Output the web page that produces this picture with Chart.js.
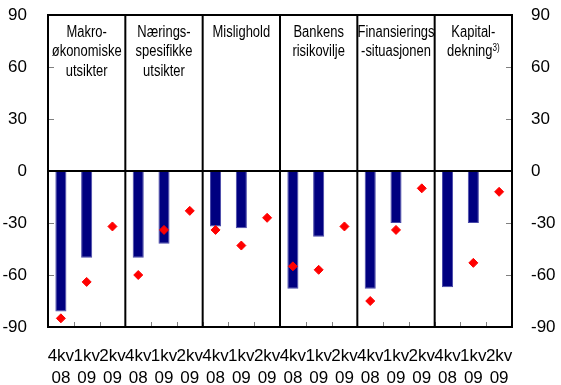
<!DOCTYPE html>
<html lang="no">
<head>
    <meta charset="UTF-8">
    <title>Utlånspraksis</title>
    <script src="https://cdn.jsdelivr.net/npm/chart.js"></script>
    <style>
        body {
            margin: 0;
            padding: 0;
            background-color: #ffffff;
        }

        #wrap {
            width: 561px;
            height: 385px;
        }
    </style>
</head>
<body>
    <div id="wrap">
        <canvas id="chart"></canvas>
    </div>
    <script>
        // Quarters repeated in every panel
        const quarters = [["4kv", "08"], ["1kv", "09"], ["2kv", "09"]];

        // Panel headings (lines) and footnote marks
        const panelTitles = [
            ["Makro-", "økonomiske", "utsikter"],
            ["Nærings-", "spesifikke", "utsikter"],
            ["Mislighold"],
            ["Bankens", "risikovilje"],
            ["Finansierings", "-situasjonen"],
            ["Kapital-", "dekning"]
        ];
        const panelNotes = ["", "", "", "", "", "3)"];

        // Bars: actual, diamonds: expected (per panel: 4kv08, 1kv09, 2kv09)
        const barValues = [
            -81, -50, null,
            -50, -42, null,
            -32, -33, null,
            -68, -38, null,
            -68, -30, null,
            -67, -30, null
        ];
        const diamondValues = [
            -85, -64, -32,
            -60, -34, -23,
            -34, -43, -27,
            -55, -57, -32,
            -75, -34, -10,
            null, -53, -12
        ];

        const yTicks = [-90, -60, -30, 0, 30, 60, 90];

        const labels = [];
        panelTitles.forEach(() => quarters.forEach(q => labels.push(q)));

        const fontFamily = "'Liberation Sans', Arial, sans-serif";
        Chart.defaults.font.family = fontFamily;
        Chart.defaults.font.size = 17;
        Chart.defaults.color = "#000000";

        // Frame, separators, inward ticks and panel headings
        const panelPlugin = {
            id: "panels",
            afterDatasetsDraw(chart) {
                const { ctx, chartArea: a } = chart;
                const x = chart.scales.x;
                const y = chart.scales.y;
                const half = (x.getPixelForValue(1) - x.getPixelForValue(0)) / 2;
                ctx.save();

                // small inward ticks
                ctx.strokeStyle = "#808080";
                ctx.lineWidth = 1;
                ctx.beginPath();
                for (let i = 1; i < labels.length; i++) {
                    const bx = Math.round(x.getPixelForValue(i) - half) + 0.5;
                    ctx.moveTo(bx, a.bottom);
                    ctx.lineTo(bx, a.bottom - 5);
                }
                yTicks.forEach(v => {
                    const py = Math.round(y.getPixelForValue(v)) + 0.5;
                    ctx.moveTo(a.left, py);
                    ctx.lineTo(a.left + 6, py);
                    ctx.moveTo(a.right, py);
                    ctx.lineTo(a.right - 6, py);
                });
                ctx.stroke();

                // panel separators, zero line and frame
                ctx.strokeStyle = "#000000";
                ctx.lineWidth = 2;
                ctx.beginPath();
                for (let p = 1; p < panelTitles.length; p++) {
                    const bx = x.getPixelForValue(p * quarters.length) - half;
                    ctx.moveTo(bx, a.top);
                    ctx.lineTo(bx, a.bottom);
                }
                const zy = y.getPixelForValue(0);
                ctx.moveTo(a.left, zy);
                ctx.lineTo(a.right, zy);
                ctx.stroke();
                ctx.strokeRect(a.left, a.top, a.right - a.left, a.bottom - a.top);

                // headings, squeezed a little like a narrow face
                const sq = 0.81;
                ctx.fillStyle = "#000000";
                ctx.textBaseline = "alphabetic";
                ctx.textAlign = "left";
                panelTitles.forEach((lines, p) => {
                    const cx = x.getPixelForValue(p * quarters.length + 1);
                    lines.forEach((line, k) => {
                        const by = a.top + 21.5 + k * 19.5;
                        const note = k === lines.length - 1 ? panelNotes[p] : "";
                        ctx.font = "16px " + fontFamily;
                        const w1 = ctx.measureText(line).width;
                        ctx.font = "10px " + fontFamily;
                        const w2 = note ? ctx.measureText(note).width : 0;
                        ctx.save();
                        ctx.translate(cx - (w1 + w2) * sq / 2, by);
                        ctx.scale(sq, 1);
                        ctx.font = "16px " + fontFamily;
                        ctx.fillText(line, 0, 0);
                        if (note) {
                            ctx.font = "10px " + fontFamily;
                            ctx.fillText(note, w1, -5);
                        }
                        ctx.restore();
                    });
                });
                ctx.restore();
            }
        };

        new Chart(document.getElementById("chart").getContext("2d"), {
            type: "bar",
            data: {
                labels: labels,
                datasets: [
                    {
                        type: "line",
                        label: "Forventet",
                        data: diamondValues,
                        showLine: false,
                        pointStyle: "rectRot",
                        pointRadius: 4.5,
                        backgroundColor: "#ff0000",
                        borderColor: "#ff0000",
                        borderWidth: 1,
                        order: 0
                    },
                    {
                        label: "Faktisk",
                        data: barValues,
                        backgroundColor: "#000080",
                        borderColor: "#4848a8",
                        borderWidth: 1,
                        categoryPercentage: 1,
                        barPercentage: 0.43,
                        order: 1
                    }
                ]
            },
            options: {
                responsive: true,
                maintainAspectRatio: false,
                animation: false,
                layout: { padding: { top: 15, left: 0, right: 0, bottom: 0 } },
                plugins: {
                    legend: { display: false },
                    tooltip: { enabled: false }
                },
                scales: {
                    x: {
                        grid: { display: false, drawTicks: false },
                        border: { display: false },
                        ticks: {
                            autoSkip: false,
                            maxRotation: 0,
                            minRotation: 0,
                            padding: 18,
                            font: { size: 17, lineHeight: "22px" }
                        },
                        afterFit(scale) {
                            scale.height = 58;
                            scale.paddingLeft = 0;
                            scale.paddingRight = 0;
                        }
                    },
                    y: {
                        position: "left",
                        min: -90,
                        max: 90,
                        grid: { display: false, drawTicks: false },
                        border: { display: false },
                        ticks: { stepSize: 30, padding: 21 },
                        afterFit(scale) {
                            scale.width = 48;
                            scale.paddingTop = 0;
                            scale.paddingBottom = 0;
                        }
                    },
                    y2: {
                        position: "right",
                        min: -90,
                        max: 90,
                        grid: { display: false, drawTicks: false },
                        border: { display: false },
                        ticks: { stepSize: 30, padding: 19 },
                        afterFit(scale) {
                            scale.width = 49;
                            scale.paddingTop = 0;
                            scale.paddingBottom = 0;
                        }
                    }
                }
            },
            plugins: [panelPlugin]
        });
    </script>
</body>
</html>
